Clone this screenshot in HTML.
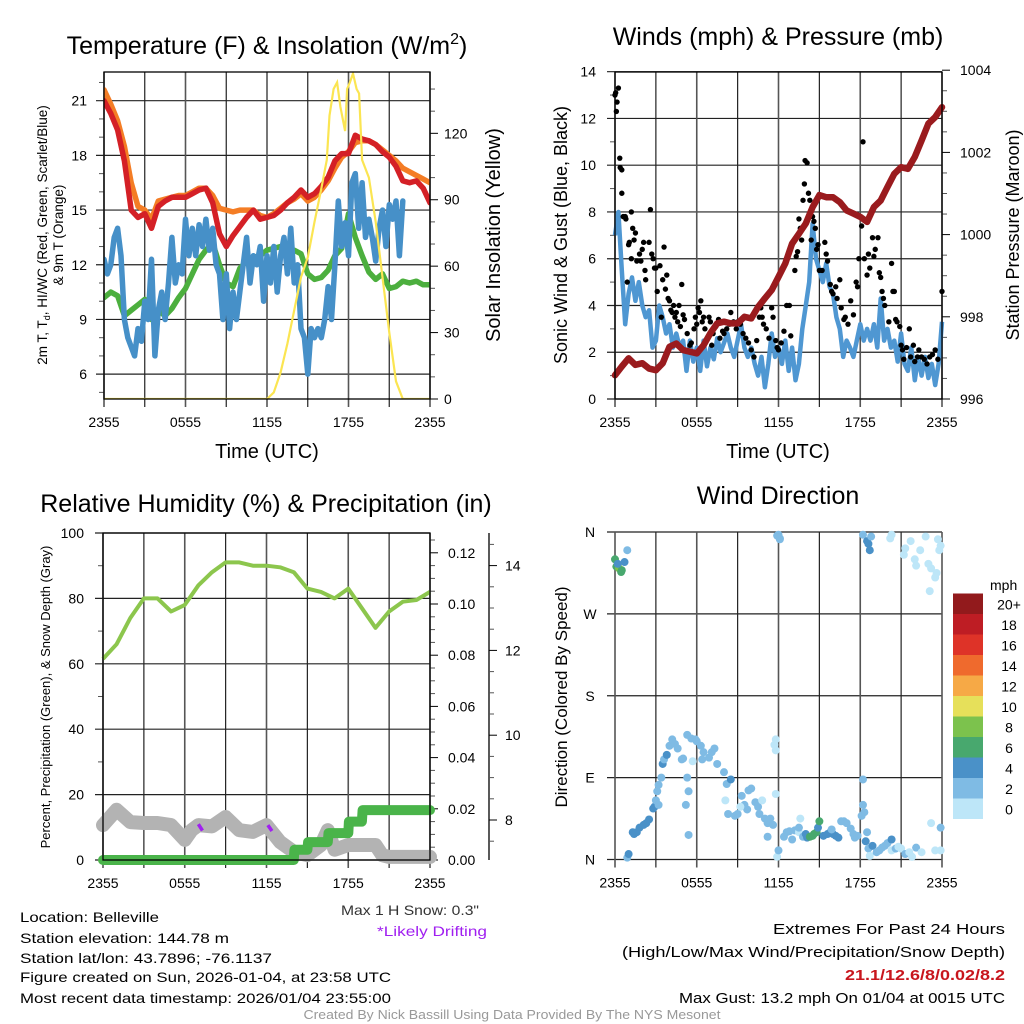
<!DOCTYPE html>
<html><head><meta charset="utf-8"><style>
html,body{margin:0;padding:0;background:#fff;}
svg{display:block;font-family:"Liberation Sans",sans-serif;}
</style></head><body>
<svg id="chart" width="1024" height="1024" viewBox="0 0 1024 1024" xmlns="http://www.w3.org/2000/svg">
<rect width="1024" height="1024" fill="#fff"/>
<defs>
<clipPath id="c1"><rect x="104" y="72" width="326" height="327"/></clipPath>
</defs>
<g id="p1"></g>
<g id="p2"></g>
<g id="p3"></g>
<g id="p4"></g>
<g id="txt">
<text x="267" y="54" font-size="25" text-anchor="middle">Temperature (F) &amp; Insolation (W/m<tspan font-size="16" dy="-10">2</tspan><tspan dy="10">)</tspan></text>
<text x="778" y="45" font-size="25" text-anchor="middle">Winds (mph) &amp; Pressure (mb)</text>
<text x="266" y="512" font-size="25" text-anchor="middle">Relative Humidity (%) &amp; Precipitation (in)</text>
<text x="778" y="504" font-size="25" text-anchor="middle">Wind Direction</text>
<text x="267" y="458" font-size="20" text-anchor="middle">Time (UTC)</text>
<text x="778" y="458" font-size="20" text-anchor="middle">Time (UTC)</text>
<text transform="translate(47,235) rotate(-90)" font-size="13.5" text-anchor="middle">2m T, T<tspan font-size="9" dy="3">d</tspan><tspan dy="-3">, HI/WC (Red, Green, Scarlet/Blue)</tspan></text>
<text transform="translate(63,235) rotate(-90)" font-size="13.5" text-anchor="middle">&amp; 9m T (Orange)</text>
<text transform="translate(500,235) rotate(-90)" font-size="20" text-anchor="middle">Solar Insolation (Yellow)</text>
<text transform="translate(567,235) rotate(-90)" font-size="18" text-anchor="middle">Sonic Wind &amp; Gust (Blue, Black)</text>
<text transform="translate(1019,235) rotate(-90)" font-size="18" text-anchor="middle">Station Pressure (Maroon)</text>
<text transform="translate(50,697) rotate(-90)" font-size="13" text-anchor="middle">Percent, Precipitation (Green), &amp; Snow Depth (Gray)</text>
<text transform="translate(567,697) rotate(-90)" font-size="17" text-anchor="middle">Direction (Colored By Speed)</text>
<text x="479" y="915" font-size="14" text-anchor="end" fill="#333" textLength="138" lengthAdjust="spacingAndGlyphs">Max 1 H Snow: 0.3"</text>
<text x="487" y="936" font-size="14" text-anchor="end" fill="#a020f0" textLength="110" lengthAdjust="spacingAndGlyphs">*Likely Drifting</text>
<text x="20" y="922" font-size="14" textLength="139" lengthAdjust="spacingAndGlyphs">Location: Belleville</text>
<text x="20" y="943" font-size="14" textLength="209" lengthAdjust="spacingAndGlyphs">Station elevation: 144.78 m</text>
<text x="20" y="963" font-size="14" textLength="252" lengthAdjust="spacingAndGlyphs">Station lat/lon: 43.7896; -76.1137</text>
<text x="20" y="982" font-size="14" textLength="371" lengthAdjust="spacingAndGlyphs">Figure created on Sun, 2026-01-04, at 23:58 UTC</text>
<text x="20" y="1003" font-size="14" textLength="371" lengthAdjust="spacingAndGlyphs">Most recent data timestamp: 2026/01/04 23:55:00</text>
<text x="1005" y="934" font-size="15" text-anchor="end" textLength="232" lengthAdjust="spacingAndGlyphs">Extremes For Past 24 Hours</text>
<text x="1005" y="957" font-size="15" text-anchor="end" textLength="383" lengthAdjust="spacingAndGlyphs">(High/Low/Max Wind/Precipitation/Snow Depth)</text>
<text x="1005" y="980" font-size="15" font-weight="bold" fill="#c8161d" text-anchor="end" textLength="160" lengthAdjust="spacingAndGlyphs">21.1/12.6/8/0.02/8.2</text>
<text x="1005" y="1003" font-size="15" text-anchor="end" textLength="326" lengthAdjust="spacingAndGlyphs">Max Gust: 13.2 mph On 01/04 at 0015 UTC</text>
<text x="512" y="1019" font-size="12.5" fill="#999" text-anchor="middle" textLength="417" lengthAdjust="spacingAndGlyphs">Created By Nick Bassill Using Data Provided By The NYS Mesonet</text>
</g>
</svg>
<script>
const hoursTicks = ["2355","0555","1155","1755","2355"];
const tempTicks = [6,9,12,15,18,21];
const solarTicks = [0,30,60,90,120];
const windTicks = [0,2,4,6,8,10,12,14];
const presTicks = [996,998,1000,1002,1004];
const rhTicks = [0,20,40,60,80,100];
const precipTicks = ["0.00","0.02","0.04","0.06","0.08","0.10","0.12"];
const snowTicks = [8,10,12,14];
const dirTicks = ["N","E","S","W","N"];
const legendLabels = ["0","2","4","6","8","10","12","14","16","18","20+"];
const legendColors = ["#bde6f8","#7fbbe4","#4a91c8","#48a86e","#7cc24d","#e6e05a","#f6a946","#ef6a2d","#de3328","#be1d24","#921a1c"];

// half-hourly series (49 values, h = 0..24)
const temp2m = [21,20.3,19.4,17.7,15,14.6,14.8,14,15.2,15.5,15.7,15.7,15.7,15.9,16.1,16.2,15.4,13.7,13,13.6,14.1,14.6,15,14.5,14.6,14.7,15,15.4,15.7,16.1,15.7,15.9,16.3,16.8,17.7,18.1,18.1,19.1,18.9,18.8,18.6,18.2,17.9,17.4,16.6,16.5,16.6,16.2,15.4];
const temp9m = [21.6,20.8,19.9,18.5,16.5,15.2,15,14.5,15.5,15.6,15.7,15.8,15.8,16,16.2,16.2,15.8,15.1,15,14.9,15,15,15,14.7,14.6,14.8,15.1,15.4,15.6,15.9,15.5,15.7,16.1,16.6,17.3,17.9,18.2,18.7,18.8,18.8,18.6,18.3,18,17.7,17.3,17.1,16.9,16.7,16.5];
const dewpoint = [10.2,10.5,10.3,9.2,9.5,9.8,10.1,9,9.5,9.2,9.6,10.2,10.7,11.5,12.3,12.8,13.2,12,11,10.8,11.8,12.2,12.4,12.5,12.8,12.9,13,12.8,12.8,12.6,11.5,11.2,11.3,11.7,12.5,12.9,14.8,13.5,12.5,11.6,11.2,11.5,10.7,10.8,11.1,11,11.1,10.9,10.9];
// quarter-hourly wind chill, h = 0..22
const windChill = [12.3,11.5,12,13.5,14,12.5,9,8,7.5,7,8.5,7.8,10,9,12.3,7,9.5,10.5,9,11,13.5,11,12,11.5,14.5,12.5,14,12.5,14.2,13,14.5,12.8,14,12,11.5,9,11.5,8.5,10.5,9,10.5,12,13.5,11,12.5,12,13,10,12.5,11,13,10.5,12.5,13.5,11.5,14,11,12,8.5,8,6,8.5,8,8.5,8,9,10.8,9,12,15.5,13,14.3,12.5,16.5,17,14,16.5,13.5,14.5,13.5,12.2,14,15,13,15.3,14.5,15.5,12.5,15.5];
const solarHours = [0,12,12.5,13,13.5,14,14.5,15,15.5,16,16.4,16.6,16.9,17.16,17.4,17.75,17.9,18.1,18.33,18.6,18.78,19,19.5,20,20.5,21,21.5,22,24];
const solarValues = [0,0,3,12,25,40,55,64,80,95,108,128,140,143,132,121,140,143,147,140,138,108,100,80,55,30,8,0,0];
const pressure = [996.58,996.79,996.99,996.83,996.87,996.74,996.7,996.87,997.27,997.35,997.19,997.15,997.11,997.31,997.6,997.84,997.88,997.84,997.84,998,997.96,998.24,998.45,998.65,998.97,999.3,999.78,1000.02,1000.27,1000.67,1000.96,1000.91,1000.91,1000.79,1000.59,1000.51,1000.43,1000.31,1000.67,1000.83,1001.16,1001.48,1001.64,1001.6,1001.89,1002.29,1002.7,1002.86,1003.1];
// quarter-hourly wind speed, h = 0..24
const windSpeed = [7,8,5.5,3.2,4.5,5.2,4.2,5,4,3.5,3.8,2.2,2.5,4,3.5,2.8,3.2,2.2,2.8,2.2,2.5,1.2,2.5,1.6,2.2,1.2,2.5,1.4,2.2,1.7,2.6,2,2.4,2.8,2.2,1.8,2.5,3.2,2.2,1.8,2.2,1.5,1,1.8,0.5,1.5,2.8,1.8,2.2,1.5,2.5,1.2,2.2,0.8,1.5,3,4,5,7.5,6,5.5,5,5.8,4.8,4.5,3.5,3,1.8,2.5,2.2,1.8,2.5,3.2,2.5,3,2.5,3.2,2.2,4.3,2.5,3,2.2,2.5,1.6,2.8,1.5,1.2,2.2,0.8,1.8,1,1.8,0.9,1.5,0.6,1.5,3.3];
const gustHours = [0,0.05,0.1,0.15,0.25,0.35,0.38,0.5,0.5,0.6,0.75,0.8,0.9,1,1.05,1.2,1.2,1.3,1.4,1.5,1.6,1.8,1.9,2,2.1,2.2,2.25,2.5,2.6,2.7,2.8,2.9,3,3.1,3.3,3.4,3.5,3.6,3.7,3.8,3.9,4,4.1,4.2,4.3,4.4,4.5,4.6,4.7,4.8,4.9,5,5.1,5.3,5.5,5.6,5.8,5.9,6,6.1,6.2,6.3,6.4,6.5,6.6,6.7,6.9,7,7.1,7.2,7.4,7.6,7.7,7.9,8,8.2,8.4,8.5,8.7,8.9,9,9.2,9.4,9.6,9.8,10,10.2,10.4,10.6,10.7,10.8,10.9,11.1,11.3,11.5,11.6,11.8,11.9,12,12.2,12.4,12.6,12.8,12.9,13.2,13.3,13.4,13.5,13.6,13.7,13.8,13.9,13.95,14.1,14.2,14.3,14.4,14.5,14.6,14.7,14.8,14.9,15,15.2,15.4,15.5,15.6,15.8,15.9,16,16.2,16.3,16.5,16.6,16.8,16.9,17.1,17.3,17.5,17.7,17.8,17.9,18.1,18.2,18.3,18.5,18.6,18.7,18.9,19,19.1,19.3,19.4,19.5,19.6,19.7,19.8,20.1,20.3,20.4,20.5,20.6,20.7,20.9,21,21.1,21.2,21.4,21.6,21.7,21.9,22,22.2,22.3,22.5,22.7,22.9,23.1,23.3,23.5,23.7,24];
const gustValues = [13,13.1,12.3,12.7,13.3,10.3,9.9,9.8,8.8,7.8,7.8,7.7,5,6.6,6.7,8,6,7.3,6.8,7.1,5.9,6.2,5.9,6.4,6.7,5.5,5.1,6.7,8.1,6.2,6,5.6,5.6,4.6,5.7,3.5,5.1,6.5,4.7,5.3,4.3,4.2,3.8,3.7,4,3.5,3.7,3.3,4,3.1,4.9,3.6,3.4,2.8,2.3,2.4,3,3.5,3.2,3.9,3.7,4.2,3.3,3.5,3,2.5,3.5,3.3,2.3,2.8,3.1,3.4,2.6,2.9,2.8,3,3.2,3.7,3.3,3,3.3,3.2,2.8,2.6,2.4,2.1,1.8,2.5,3.5,3.9,3.5,3.2,3,2.6,3.9,3.5,2.5,2.2,2.1,2.4,2.9,4,4,2.7,5.5,6.1,6.3,7.7,7.3,6.8,8.5,9.2,10.2,10.1,8.8,8.5,6.8,7.8,7.6,7.3,6.4,6.6,5.5,5.5,6.7,6.2,5.9,4.9,4.6,4.5,4.8,4.3,5.1,3.9,3.4,3.5,3.2,4.2,3.6,5,4.8,6,7.4,11,6,5.3,6.2,5.6,6.9,6.1,6.4,6.9,5.4,5.2,4.6,4.3,4,3.3,5.8,4.6,4.6,3.4,3.3,3.1,2.3,2.1,1.7,2.2,3,1.8,2.3,1.6,1.8,2.1,1.8,1.7,1.5,1.8,1.9,2.1,1.7,4.6];
// hourly series h = 0..24
const relHumidity = [61.5,66,74,80,80,76,78,84,88,91,91,90,90,89.5,88,83,82,80,83,77,71,76,79,79.5,82];
const precipHours = [0,14,14.05,15,15.05,16.5,16.55,18,18.05,19,19.05,24];
const precipValues = [0,0,0.004,0.004,0.007,0.007,0.0105,0.0105,0.015,0.015,0.0195,0.0195];
const snowHours = [0,1,2,3,4,5,6,6.5,7,8,9,10,11,12,13,14,15,16,16.5,17,18,19,20,20.5,21,22,23,24];
const snowDepth = [7.88,8.24,7.95,7.93,7.93,7.88,7.53,7.76,7.88,7.85,8.07,7.76,7.72,7.88,7.48,7.25,7.17,7.41,7.76,7.3,7.41,7.41,7.41,7.17,7.13,7.13,7.13,7.13];
const driftHours = [7,7.3,12.1,12.4,16.4,16.7];
const driftDepth = [7.9,7.75,7.88,7.74,7.6,7.78];
// wind direction scatter
const dirHours = [0,0.1,0.3,0.5,0.2,0.7,0.9,0.45,0.9,1,1.3,1.4,1.6,1.8,2.1,2.3,2.5,2.8,2.9,3,3.1,3.2,3.4,3.5,3.6,3.8,4,4.2,4.4,4.6,4.9,5,5.3,5.6,5.9,6,6.3,6.5,6.4,6.9,7.1,7.3,7.5,5.7,3.2,5.3,5.2,5.4,5.4,8.2,8,8.5,8.1,8.3,8.8,9,9.3,9.5,9.8,10,9.7,9.2,10.3,10.5,10.8,11,11.2,11.4,11.6,11.2,10.6,11.8,11.7,11.8,11.8,11.9,12,12,12.1,12.4,12.6,12.8,13,13.2,13.5,13.6,13.5,13.8,14,14.1,14.3,14.5,14.6,14.8,14.9,15,15.3,15.6,15.8,16,16.2,16.4,15.9,16.6,16.8,17,17.3,17.5,17.6,17.8,18.1,18.3,18.2,18.2,18.5,18.4,18.6,18.7,18.9,19.2,19.4,19.6,19.8,20,20.3,20.3,20.6,20.8,21,21.3,21.6,21.8,22.1,22.5,23.2,23.5,23.9,23.9,18.2,18.5,18.6,18.8,18.7,20.3,20.2,21.3,21.2,21.7,22,22.1,22.4,23,23.5,23.6,23.2,23.1,23.9,23.8,23.7,22.8,11.9,12.1];
const dirDegrees = [330,322,320,318,325,327,340,316,2,6,30,28,30,35,38,40,44,56,58,65,75,82,90,105,110,115,125,132,127,122,110,111,137,133,132,130,125,118,110,112,118,122,105,108,60,90,60,75,27,83,96,88,65,50,48,50,70,60,76,78,55,58,63,58,65,45,40,45,38,25,50,72,126,132,120,3,10,357,352,25,30,31,22,32,30,45,35,25,28,24,25,26,28,30,35,42,26,28,30,28,26,24,33,42,42,40,34,28,24,26,48,52,88,60,30,20,12,4,15,8,10,13,15,18,22,10,12,14,12,6,8,3,13,8,40,10,10,35,357,350,347,355,340,357,353,342,335,350,330,323,340,325,310,315,320,295,345,340,352,355,356,353];
const dirSpeeds = [6,7,8,6,5,4,2,6,3,4,4,4,5,4,4,4,4,4,4,3,3,3,3,4,3,4,3,3,3,3,2,3,3,2,3,2,3,2,2,2,2,2,2,1,2,2,2,2,2,3,2,4,1,2,2,3,2,2,3,2,2,1,2,2,1,2,2,2,2,2,2,1,0,0,1,1,2,2,2,2,2,2,2,2,1,1,2,3,4,4,6,6,6,6,4,6,4,4,4,4,4,4,2,2,2,2,2,2,2,2,2,2,2,2,2,4,2,1,4,2,2,2,2,2,4,1,2,1,1,2,1,1,2,1,1,1,0,3,2,4,4,2,4,1,0,0,1,0,1,0,1,0,0,0,0,0,0,0,0,0,2,2];

const NS="http://www.w3.org/2000/svg";
function mk(parent,tag,attrs,text){const e=document.createElementNS(NS,tag);for(const k in attrs)e.setAttribute(k,attrs[k]);if(text!==undefined)e.textContent=text;parent.appendChild(e);return e;}
function pts(xs,ys,fx,fy){return xs.map((h,i)=>fx(h).toFixed(1)+","+fy(ys[i]).toFixed(1)).join(" ");}
function seq(n,step){return Array.from({length:n},(_,i)=>i*step);}

function frame(g,x0,x1,y0,y1){
  for(let k=0;k<=8;k++){const x=x0+(x1-x0)*k/8;
    const l=mk(g,"line",{x1:x,x2:x,y1:y0,y2:y1+8,stroke:k%2?"#222":"#555","stroke-width":k%2?1.2:1.6});
    
    }
  hoursTicks.forEach((t,i)=>{const tx=mk(g,"text",{x:x0+(x1-x0)*i/4,y:y1+28,"font-size":14,"text-anchor":"middle"},t);
    
    });
}
function box(g,x0,x1,y0,y1){const r=mk(g,"rect",{x:x0,y:y0,width:x1-x0,height:y1-y0,fill:"none",stroke:"#000","stroke-width":1.3});
  
  }
function hgrid(g,x0,x1,ys){ys.forEach(y=>{const l=mk(g,"line",{x1:x0-8,x2:x1,y1:y,y2:y,stroke:"#222","stroke-width":1.2});
  
  });}
function minor(g,x,ys,dir){ys.forEach(y=>mk(g,"line",{x1:x,x2:x+dir*5,y1:y,y2:y,stroke:"#555","stroke-width":1}));}

// ---------- Panel 1 ----------
(function(){
  const g=document.getElementById("p1");
  const X0=104,X1=430,Y0=72,Y1=399;
  const fx=h=>X0+h*(X1-X0)/24, fy=v=>100.7+(21-v)*18.23, fs=w=>399-w*2.214;
  hgrid(g,X0,X1,tempTicks.map(fy));
  frame(g,X0,X1,Y0,Y1);
  tempTicks.forEach(v=>{const t=mk(g,"text",{x:87,y:fy(v)+5,"font-size":14,"text-anchor":"end"},v);
    
    });
  minor(g,X0,[5,7,8,10,11,13,14,16,17,19,20,22].map(fy),-1);
  solarTicks.forEach(v=>{mk(g,"line",{x1:X1,x2:X1+8,y1:fs(v),y2:fs(v),stroke:"#000"});
    const t=mk(g,"text",{x:X1+14,y:fs(v)+5,"font-size":14},v);
    
    });
  minor(g,X1,[10,20,40,50,70,80,100,110,130,140].map(fs),1);
  const cg=mk(g,"g",{"clip-path":"url(#c1)"});
  const half=seq(49,0.5);
  const lines=[[dewpoint,half,"#4caf3e",5.5,"dewpoint-line"],[windChill,seq(89,0.25),"#4690c8",5.5,"wind-chill-line"],[temp9m,half,"#f47d25",5.5,"temp-9m-line"],[temp2m,half,"#d42026",5.5,"temp-2m-line"]];
  lines.forEach(([v,h,c,w,n])=>{const p=mk(cg,"polyline",{points:pts(h,v,fx,fy),fill:"none",stroke:c,"stroke-width":w,"stroke-linejoin":"round","stroke-linecap":"round"});
    
    });
  const s=mk(cg,"polyline",{points:pts(solarHours,solarValues,fx,fs),fill:"none",stroke:"#fbe552","stroke-width":2.2});
  
  
  box(g,X0,X1,Y0,Y1);
})();

// ---------- Panel 2 ----------
(function(){
  const g=document.getElementById("p2");
  const X0=615,X1=942,Y0=72,Y1=399;
  const fx=h=>X0+h*(X1-X0)/24, fw=v=>399-v*23.38, fp=p=>399-(p-996)*41.1;
  hgrid(g,X0,X1,windTicks.map(fw));
  frame(g,X0,X1,Y0,Y1);
  windTicks.forEach(v=>{const t=mk(g,"text",{x:596,y:fw(v)+5,"font-size":14,"text-anchor":"end"},v);
    
    });
  minor(g,X0,[1,3,5,7,9,11,13].map(fw),-1);
  presTicks.forEach(v=>{mk(g,"line",{x1:X1,x2:X1+8,y1:fp(v),y2:fp(v),stroke:"#000"});
    const t=mk(g,"text",{x:X1+18,y:fp(v)+5,"font-size":14},v);
    
    });
  minor(g,X1,[996.5,997,997.5,998.5,999,999.5,1000.5,1001,1001.5,1002.5,1003,1003.5].map(fp),1);
  const w=mk(g,"polyline",{points:pts(seq(97,0.25),windSpeed,fx,fw),fill:"none",stroke:"#4f97d2","stroke-width":4.5,"stroke-linejoin":"round"});
  
  
  gustHours.forEach((h,i)=>{const c=mk(g,"circle",{cx:fx(h),cy:fw(gustValues[i]),r:2.7,fill:"#000"});
    
    });
  const p=mk(g,"polyline",{points:pts(seq(49,0.5),pressure,fx,fp),fill:"none",stroke:"#9a1b1e","stroke-width":6.5,"stroke-linejoin":"round","stroke-linecap":"round"});
  
  
  box(g,X0,X1,Y0,Y1);
})();

// ---------- Panel 3 ----------
(function(){
  const g=document.getElementById("p3");
  const X0=103,X1=430,Y0=533,Y1=860;
  const fx=h=>X0+h*(X1-X0)/24, fr=v=>860-v*3.27, fpr=v=>860-v*2560, fsn=s=>820-(s-8)*42.4;
  hgrid(g,X0,X1,rhTicks.map(fr));
  frame(g,X0,X1,Y0,Y1);
  rhTicks.forEach(v=>{const t=mk(g,"text",{x:84,y:fr(v)+5,"font-size":14,"text-anchor":"end"},v);
    
    });
  minor(g,X0,[10,30,50,70,90].map(fr),-1);
  precipTicks.forEach(v=>{const y=fpr(parseFloat(v));mk(g,"line",{x1:X1,x2:X1+8,y1:y,y2:y,stroke:"#000"});
    const t=mk(g,"text",{x:448,y:y+5,"font-size":14},v);
    
    });
  minor(g,X1,[0.005,0.01,0.015,0.025,0.03,0.035,0.045,0.05,0.055,0.065,0.07,0.075,0.085,0.09,0.095,0.105,0.11,0.115,0.125].map(fpr),1);
  mk(g,"line",{x1:489,x2:489,y1:Y0,y2:Y1,stroke:"#000","stroke-width":1.3});
  snowTicks.forEach(v=>{mk(g,"line",{x1:489,x2:497,y1:fsn(v),y2:fsn(v),stroke:"#000"});
    const t=mk(g,"text",{x:505,y:fsn(v)+5,"font-size":14},v);
    
    });
  minor(g,489,[7.5,8.5,9,9.5,10.5,11,11.5,12.5,13,13.5,14.5].map(fsn),1);
  const rh=mk(g,"polyline",{points:pts(seq(25,1),relHumidity,fx,fr),fill:"none",stroke:"#8cc64d","stroke-width":4,"stroke-linejoin":"round"});
  
  
  const sn=mk(g,"polyline",{points:pts(snowHours,snowDepth,fx,fsn),fill:"none",stroke:"#b3b3b3","stroke-width":14,"stroke-linejoin":"round","stroke-linecap":"round"});
  
  
  for(let i=0;i<driftHours.length;i+=2){const d=mk(g,"line",{x1:fx(driftHours[i]),y1:fsn(driftDepth[i]),x2:fx(driftHours[i+1]),y2:fsn(driftDepth[i+1]),stroke:"#a020f0","stroke-width":3.5});
    
    }
  const pr=mk(g,"polyline",{points:pts(precipHours,precipValues,fx,fpr),fill:"none",stroke:"#4ab44a","stroke-width":10,"stroke-linejoin":"round","stroke-linecap":"round"});
  
  
  box(g,X0,X1,Y0,Y1);
})();

// ---------- Panel 4 ----------
(function(){
  const g=document.getElementById("p4");
  const X0=615,X1=942,Y0=532,Y1=859.5;
  const fx=h=>X0+h*(X1-X0)/24, fd=d=>Y1-d*(Y1-Y0)/360;
  hgrid(g,X0,X1,[0,90,180,270,360].map(fd));
  frame(g,X0,X1,Y0,Y1);
  dirTicks.forEach((t,i)=>{const e=mk(g,"text",{x:590,y:fd(i*90)+5,"font-size":14,"text-anchor":"middle"},t);
    
    });
  dirHours.forEach((h,i)=>{const bin=Math.min(10,Math.floor(dirSpeeds[i]/2));
    const c=mk(g,"circle",{cx:fx(h),cy:fd(dirDegrees[i]),r:4,fill:legendColors[bin]});
    
    });
  const m=mk(g,"text",{x:990,y:590,"font-size":14},"mph");
  
  
  legendColors.forEach((c,i)=>{const y=819-(i+1)*20.5;
    const r=mk(g,"rect",{x:953,y:y,width:30,height:20.5,fill:c});
    
    
    const t=mk(g,"text",{x:1009,y:y+16,"font-size":14,"text-anchor":"middle"},legendLabels[i]);
    
    });
})();
</script>
</body></html>
